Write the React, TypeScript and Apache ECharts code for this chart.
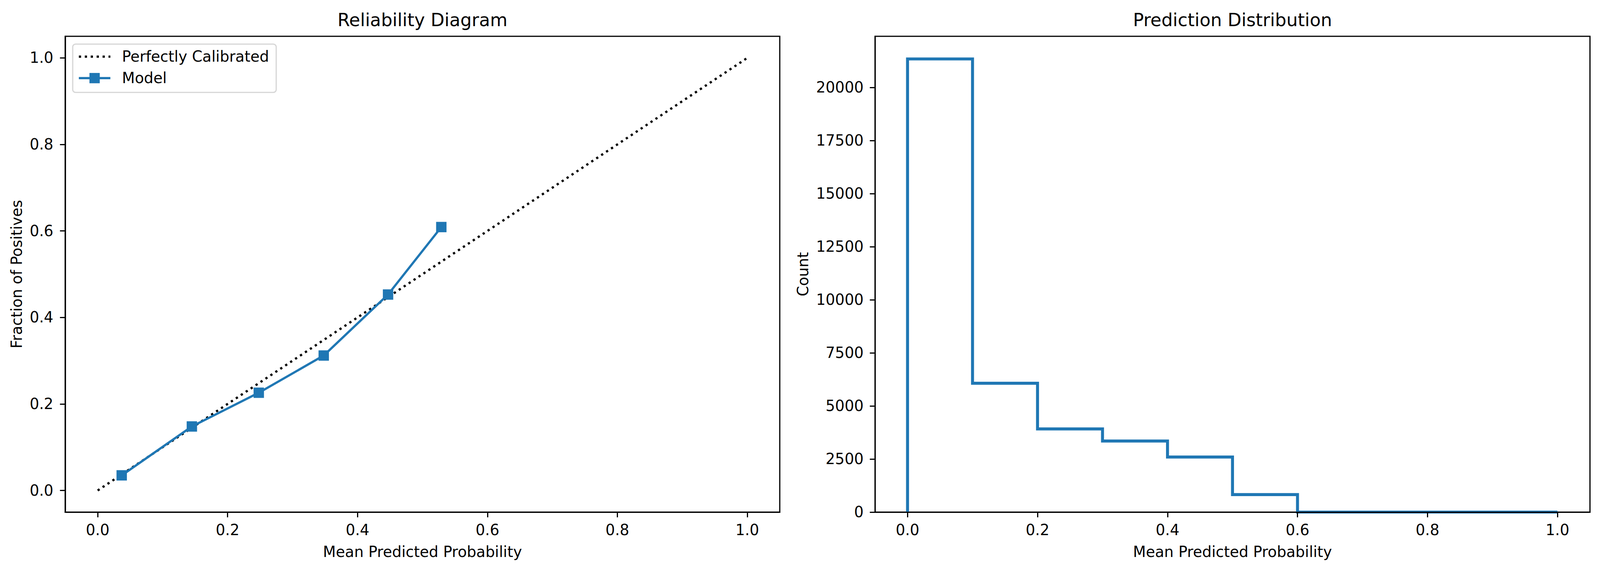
import { useEffect, useRef } from 'react';
import * as echarts from 'echarts';

// calibration curve (one point per non-empty bin)
const meanPredicted = [0.037, 0.145, 0.248, 0.348, 0.447, 0.529];
const fractionPositives = [0.035, 0.148, 0.226, 0.312, 0.453, 0.609];

// reference diagonal
const perfectX = [0, 1];
const perfectY = [0, 1];

// histogram of predictions, 10 bins on [0, 1]
const binEdges = [0, 0.1, 0.2, 0.3, 0.4, 0.5, 0.6, 0.7, 0.8, 0.9, 1.0];
const binCounts = [21350, 6070, 3920, 3350, 2595, 825, 0, 0, 0, 0];

const probTicks = [0, 0.2, 0.4, 0.6, 0.8, 1.0];
const countTicks = [0, 2500, 5000, 7500, 10000, 12500, 15000, 17500, 20000];

const FONT = 'DejaVu Sans';
const PT = 300 / 72;
const BLUE = '#1f77b4';
// size of the original figure, layout below is given in its pixels
const REF_W = 4467;
const REF_H = 1468;

export default function App() {
  const chartRef = useRef<HTMLDivElement>(null);

  useEffect(() => {
    if (!chartRef.current) return;
    document.body.style.margin = '0';
    document.body.style.overflow = 'hidden';

    const el = chartRef.current;
    const chart = echarts.init(el, null, { renderer: 'svg' });

    // the viewport can be smaller than the figure, so scale everything to it
    const sx = el.clientWidth / REF_W;
    const sy = el.clientHeight / REF_H;
    const s = Math.min(sx, sy);
    const X = (v: number) => v * sx;
    const Y = (v: number) => v * sy;
    const S = (v: number) => v * s;

    const fontSize = S(10 * PT);
    const spineW = S(0.8 * PT);
    const tickLen = S(3.5 * PT);
    const textStyle = { fontFamily: FONT, fontSize, color: '#000' };
    const titleStyle = { fontFamily: FONT, fontSize: S(12 * PT), fontWeight: 'normal' as const, color: '#000' };

    const stepData: number[][] = [[binEdges[0], 0]];
    binCounts.forEach((c, i) => {
      stepData.push([binEdges[i], c], [binEdges[i + 1], c]);
    });
    stepData.push([binEdges[binEdges.length - 1], 0]);
    const countMax = Math.max(...binCounts) * 1.05;

    const axisLine = { show: true, onZero: false, lineStyle: { color: '#000', width: spineW } };
    const tickStyle = { color: '#000', width: spineW };

    const probAxis = (gridIndex: number) => ({
      type: 'value' as const,
      gridIndex,
      min: -0.05,
      max: 1.05,
      name: 'Mean Predicted Probability',
      nameLocation: 'middle' as const,
      nameGap: Y(83),
      nameTextStyle: textStyle,
      axisLine,
      axisTick: { show: true, length: tickLen, customValues: probTicks, lineStyle: tickStyle },
      axisLabel: { ...textStyle, margin: Y(27), customValues: probTicks, formatter: (v: number) => v.toFixed(1) },
      splitLine: { show: false },
      z: 3,
    });

    const grids = [
      { left: X(182), top: Y(93), width: X(1995), height: Y(1219) },
      { left: X(2443), top: Y(93), width: X(1996), height: Y(1219) },
    ];

    const option: echarts.EChartsOption = {
      animation: false,
      backgroundColor: '#fff',
      title: [
        {
          text: 'Reliability Diagram',
          left: grids[0].left + grids[0].width / 2,
          top: Y(28),
          textAlign: 'center',
          padding: 0,
          textStyle: titleStyle,
        },
        {
          text: 'Prediction Distribution',
          left: grids[1].left + grids[1].width / 2,
          top: Y(28),
          textAlign: 'center',
          padding: 0,
          textStyle: titleStyle,
        },
      ],
      legend: {
        data: [{ name: 'Perfectly Calibrated', itemStyle: { opacity: 0 } }, { name: 'Model' }],
        orient: 'vertical',
        left: X(203),
        top: Y(113),
        padding: [S(14), S(20), S(19), S(14)],
        itemWidth: S(88),
        itemHeight: S(36),
        itemGap: S(18),
        backgroundColor: '#fff',
        borderColor: '#d6d6d6',
        borderWidth: spineW,
        borderRadius: S(8),
        lineStyle: { width: S(1.5 * PT) },
        textStyle: { ...textStyle, lineHeight: S(42), padding: [0, 0, 0, S(27)] },
      },
      grid: grids.map((g) => ({ ...g, show: true, borderColor: '#000', borderWidth: spineW, backgroundColor: 'transparent' })),
      xAxis: [probAxis(0), probAxis(1)],
      yAxis: [
        {
          type: 'value',
          gridIndex: 0,
          min: -0.05,
          max: 1.05,
          name: 'Fraction of Positives',
          nameLocation: 'middle',
          nameGap: X(114),
          nameTextStyle: textStyle,
          axisLine,
          axisTick: { show: true, length: tickLen, customValues: probTicks, lineStyle: tickStyle },
          axisLabel: { ...textStyle, margin: X(33), customValues: probTicks, formatter: (v: number) => v.toFixed(1) },
          splitLine: { show: false },
          z: 3,
        },
        {
          type: 'value',
          gridIndex: 1,
          min: 0,
          max: countMax,
          name: 'Count',
          nameLocation: 'middle',
          nameGap: X(180),
          nameTextStyle: textStyle,
          axisLine,
          axisTick: { show: true, length: tickLen, customValues: countTicks, lineStyle: tickStyle },
          axisLabel: { ...textStyle, margin: X(32), customValues: countTicks, formatter: (v: number) => String(v) },
          splitLine: { show: false },
          z: 3,
        },
      ],
      series: [
        {
          name: 'Perfectly Calibrated',
          type: 'line',
          xAxisIndex: 0,
          yAxisIndex: 0,
          data: perfectX.map((x, i) => [x, perfectY[i]]),
          symbol: 'none',
          lineStyle: { color: '#000', width: S(1.5 * PT), type: [S(1.5 * PT), S(1.65 * 1.5 * PT)], cap: 'butt' },
          itemStyle: { color: '#000' },
          z: 2,
        },
        {
          name: 'Model',
          type: 'line',
          xAxisIndex: 0,
          yAxisIndex: 0,
          data: meanPredicted.map((x, i) => [x, fractionPositives[i]]),
          symbol: 'rect',
          symbolSize: S(29),
          lineStyle: { color: BLUE, width: S(1.5 * PT) },
          itemStyle: { color: BLUE },
          z: 2,
        },
        {
          name: 'Histogram',
          type: 'line',
          xAxisIndex: 1,
          yAxisIndex: 1,
          data: stepData,
          symbol: 'none',
          lineStyle: { color: BLUE, width: S(2 * PT), join: 'miter', cap: 'butt' },
          itemStyle: { color: BLUE },
          z: 2,
        },
      ],
    };

    chart.setOption(option);

    return () => {
      chart.dispose();
    };
  }, []);

  return <div ref={chartRef} style={{ width: '100vw', height: '100vh' }} />;
}
